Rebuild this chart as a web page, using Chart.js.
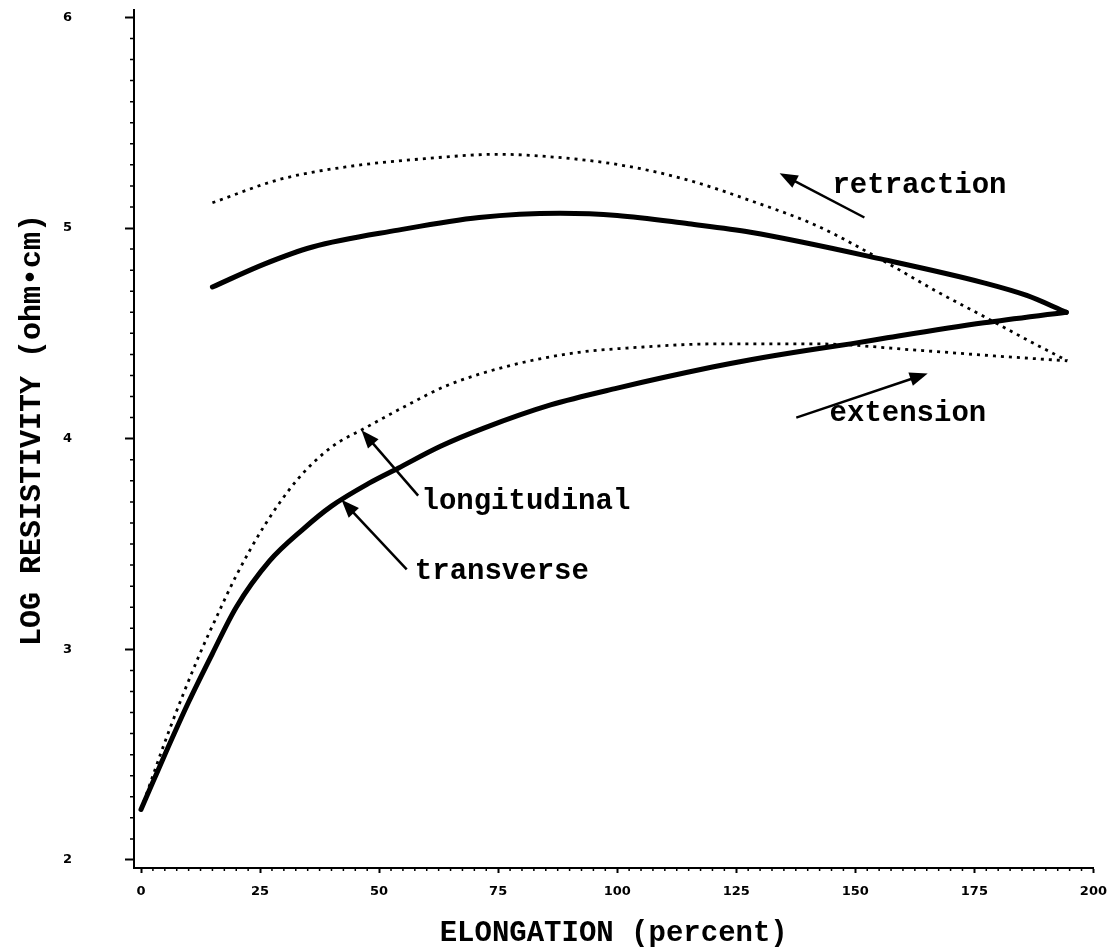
<!DOCTYPE html>
<html lang="en">
<head>
    <meta charset="UTF-8">
    <title>Log resistivity vs elongation</title>
    <script src="https://cdn.jsdelivr.net/npm/chart.js"></script>
    <style>
        body {
            margin: 0;
            background: #fff;
        }
        canvas {
            display: block;
        }
    </style>
</head>
<body>
    <canvas id="resistChart" width="1118" height="951"></canvas>

    <script>
        // Values (elongation %, log resistivity)
        const transExtX = [0, 2.5, 5, 10, 15, 20, 27, 34, 40, 48, 54, 63, 72, 86, 100, 120, 128, 140, 149, 157, 177, 194.3];
        const transExtY = [2.24, 2.37, 2.50, 2.75, 2.98, 3.20, 3.42, 3.57, 3.68, 3.79, 3.86, 3.965, 4.05, 4.16, 4.24, 4.34, 4.375, 4.42, 4.45, 4.48, 4.55, 4.60];

        const transRetX = [15, 26, 36, 54, 71, 88, 100, 115, 128, 156, 177, 186, 194.3];
        const transRetY = [4.72, 4.83, 4.91, 4.99, 5.05, 5.07, 5.06, 5.02, 4.98, 4.85, 4.74, 4.68, 4.60];

        const longExtX = [0, 6, 12, 16, 20, 26, 33, 40, 47, 56, 64, 78, 92, 102, 121, 142, 163, 181, 194.5];
        const longExtY = [2.24, 2.62, 2.96, 3.16, 3.35, 3.59, 3.81, 3.96, 4.05, 4.16, 4.25, 4.35, 4.41, 4.43, 4.45, 4.45, 4.42, 4.39, 4.37];

        const longRetX = [15, 29, 43, 60, 75, 85, 100.5, 114.5, 128, 142, 157, 167, 177, 186, 194.5];
        const longRetY = [5.12, 5.23, 5.29, 5.33, 5.35, 5.34, 5.30, 5.23, 5.13, 5.01, 4.83, 4.70, 4.58, 4.47, 4.37];

        const xTicks = [0, 25, 50, 75, 100, 125, 150, 175, 200];
        const yTicks = [2, 3, 4, 5, 6];

        // text labels with arrows, in data units
        const notes = [
            { text: 'retraction',   x: 145.2, y: 5.20, from: [151.9, 5.05], to: [134.1, 5.26] },
            { text: 'extension',    x: 144.6, y: 4.12, from: [137.6, 4.10], to: [165.2, 4.31] },
            { text: 'longitudinal', x: 58.9,  y: 3.70, from: [58.2, 3.73],  to: [46.3, 4.04] },
            { text: 'transverse',   x: 57.5,  y: 3.37, from: [55.8, 3.38],  to: [42.1, 3.71] }
        ];

        function pairs(xs, ys) {
            return xs.map((v, i) => ({ x: v, y: ys[i] }));
        }

        const monoFont = 'bold 29px "Liberation Mono", "Courier New", monospace';

        // small tick marks between the labelled ones
        const minorTicks = {
            id: 'minorTicks',
            afterDraw(chart) {
                const { ctx, chartArea } = chart;
                const xs = chart.scales.x, ys = chart.scales.y;
                ctx.save();
                ctx.strokeStyle = '#000';
                ctx.lineWidth = 1.5;
                ctx.beginPath();
                for (let i = 1; i < 80; i++) {
                    if (i % 10 === 0) continue;
                    const px = xs.getPixelForValue(i * 2.5);
                    ctx.moveTo(px, chartArea.bottom);
                    ctx.lineTo(px, chartArea.bottom + 3);
                }
                for (let i = 1; i < 40; i++) {
                    if (i % 10 === 0) continue;
                    const py = ys.getPixelForValue(2 + i * 0.1);
                    ctx.moveTo(chartArea.left, py);
                    ctx.lineTo(chartArea.left - 4, py);
                }
                ctx.stroke();
                ctx.restore();
            }
        };

        // annotation text and arrows
        const arrowNotes = {
            id: 'arrowNotes',
            afterDraw(chart) {
                const { ctx } = chart;
                const xs = chart.scales.x, ys = chart.scales.y;
                ctx.save();
                ctx.fillStyle = '#000';
                ctx.strokeStyle = '#000';
                ctx.font = monoFont;
                ctx.textBaseline = 'middle';
                ctx.textAlign = 'left';
                notes.forEach(n => {
                    ctx.fillText(n.text, xs.getPixelForValue(n.x), ys.getPixelForValue(n.y));
                    const x1 = xs.getPixelForValue(n.from[0]), y1 = ys.getPixelForValue(n.from[1]);
                    const x2 = xs.getPixelForValue(n.to[0]), y2 = ys.getPixelForValue(n.to[1]);
                    const ang = Math.atan2(y2 - y1, x2 - x1);
                    const headLen = 18, headW = 7;
                    ctx.lineWidth = 2.5;
                    ctx.beginPath();
                    ctx.moveTo(x1, y1);
                    ctx.lineTo(x2 - Math.cos(ang) * headLen * 0.8, y2 - Math.sin(ang) * headLen * 0.8);
                    ctx.stroke();
                    ctx.beginPath();
                    ctx.moveTo(x2, y2);
                    ctx.lineTo(x2 - Math.cos(ang) * headLen - Math.sin(ang) * headW,
                               y2 - Math.sin(ang) * headLen + Math.cos(ang) * headW);
                    ctx.lineTo(x2 - Math.cos(ang) * headLen + Math.sin(ang) * headW,
                               y2 - Math.sin(ang) * headLen - Math.cos(ang) * headW);
                    ctx.closePath();
                    ctx.fill();
                });
                ctx.restore();
            }
        };

        const solid = {
            borderColor: '#000',
            borderWidth: 5,
            borderCapStyle: 'round',
            borderJoinStyle: 'round',
            pointRadius: 0,
            cubicInterpolationMode: 'monotone',
            fill: false
        };
        const dotted = {
            borderColor: '#000',
            borderWidth: 2.8,
            borderDash: [3, 5],
            pointRadius: 0,
            cubicInterpolationMode: 'monotone',
            fill: false
        };

        const ctx = document.getElementById('resistChart').getContext('2d');
        const resistChart = new Chart(ctx, {
            type: 'line',
            data: {
                datasets: [
                    Object.assign({ label: 'transverse extension', data: pairs(transExtX, transExtY) }, solid),
                    Object.assign({ label: 'transverse retraction', data: pairs(transRetX, transRetY) }, solid),
                    Object.assign({ label: 'longitudinal extension', data: pairs(longExtX, longExtY) }, dotted),
                    Object.assign({ label: 'longitudinal retraction', data: pairs(longRetX, longRetY) }, dotted)
                ]
            },
            options: {
                responsive: false,
                animation: false,
                devicePixelRatio: 1,
                layout: {
                    padding: { top: 10, right: 24, bottom: 0, left: 0 }
                },
                plugins: {
                    legend: { display: false },
                    tooltip: { enabled: false }
                },
                scales: {
                    x: {
                        type: 'linear',
                        min: -1.47,
                        max: 200,
                        afterBuildTicks: s => { s.ticks = xTicks.map(v => ({ value: v })); },
                        afterFit: s => { s.height = 83; },
                        border: { display: true, color: '#000', width: 2 },
                        grid: { drawOnChartArea: false, drawTicks: true, tickLength: 5, tickWidth: 2, tickColor: '#000' },
                        ticks: {
                            color: '#000',
                            padding: 11,
                            maxRotation: 0,
                            autoSkip: false,
                            font: { family: 'DejaVu Sans', size: 13, weight: 'bold' }
                        },
                        title: {
                            display: true,
                            text: 'ELONGATION (percent)',
                            color: '#000',
                            padding: { top: 0, bottom: 0 },
                            font: { family: 'Liberation Mono', size: 29, weight: 'bold' }
                        }
                    },
                    y: {
                        type: 'linear',
                        min: 1.962,
                        max: 6.035,
                        afterBuildTicks: s => { s.ticks = yTicks.map(v => ({ value: v })); },
                        afterFit: s => {
                            s.width = 134;
                            // the big label gap should not push the plot down
                            s.paddingTop = 8;
                            s.paddingBottom = 8;
                        },
                        border: { display: true, color: '#000', width: 2 },
                        grid: { drawOnChartArea: false, drawTicks: true, tickLength: 9, tickWidth: 2, tickColor: '#000' },
                        ticks: {
                            color: '#000',
                            padding: 53,
                            font: { family: 'DejaVu Sans', size: 13, weight: 'bold' }
                        },
                        title: {
                            display: true,
                            text: '\u00a0LOG RESISTIVITY (ohm•cm)',
                            color: '#000',
                            padding: { top: 14, bottom: 0 },
                            font: { family: 'Liberation Mono', size: 30, weight: 'bold' }
                        }
                    }
                }
            },
            plugins: [minorTicks, arrowNotes]
        });
    </script>
</body>
</html>
